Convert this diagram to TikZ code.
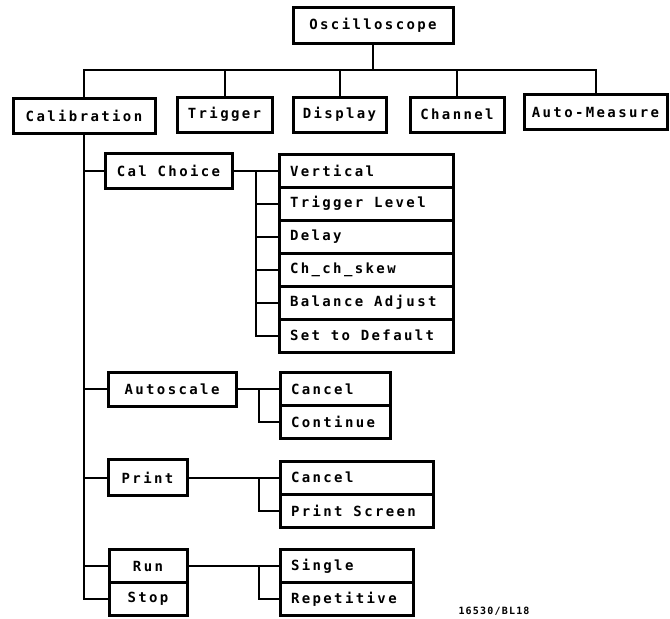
\documentclass[tikz,border=0pt]{standalone}
\usepackage{fontspec}
\newfontfamily\hpfont{DejaVu Sans Mono}[LetterSpace=17]
\newfontfamily\hpsmall{DejaVu Sans Mono}[LetterSpace=12]
\newcommand\hsp{\hspace*{10.8pt}}
\begin{document}
\begin{tikzpicture}[x=1pt,y=-1pt,
  box/.style={draw, line width=3pt, rectangle, inner xsep=0pt, inner ysep=0pt,
    outer sep=0pt, anchor=center, font=\hpfont\bfseries\fontsize{14}{16}\selectfont},
  lbox/.style={box, align=left, inner xsep=11pt},
  conn/.style={line width=2pt}]
\useasboundingbox (0,0) rectangle (670,619);
% top level
\node[box, minimum width=160pt, minimum height=36pt] (osc) at (373,25) {Oscilloscope};
\node[box, minimum width=142pt, minimum height=35pt] (cal) at (84,115.5) {Calibration};
\node[box, minimum width=95pt, minimum height=35pt] (trig) at (224.5,114.5) {Trigger};
\node[box, minimum width=93pt, minimum height=35pt] (disp) at (339.5,114.5) {Display};
\node[box, minimum width=94pt, minimum height=35pt] (chan) at (457,114.5) {Channel};
\node[box, minimum width=143pt, minimum height=35pt] (autom) at (595.5,112) {Auto-Measure};
\path (osc.south) ++(0,27) coordinate (busmid);
\draw[conn] (osc.south) -- (busmid);
\draw[conn] (cal.north) |- (busmid -| autom.north) -- (autom.north);
\foreach \n in {trig,disp,chan}{\draw[conn] (\n.north) -- (\n.north |- busmid);}
% Cal Choice group
\node[box, minimum width=127pt, minimum height=35pt] (cc) at (168.5,170.5) {Cal\hsp Choice};
\node[lbox, text width=152pt, minimum height=33pt] (v1) at (366,170.5) {Vertical};
\node[lbox, text width=152pt, minimum height=33pt] (v2) at (366,203.5) {Trigger\hsp Level};
\node[lbox, text width=152pt, minimum height=33pt] (v3) at (366,236.5) {Delay};
\node[lbox, text width=152pt, minimum height=33pt] (v4) at (366,269.5) {Ch\_ch\_skew};
\node[lbox, text width=152pt, minimum height=33pt] (v5) at (366,302.5) {Balance\hsp Adjust};
\node[lbox, text width=152pt, minimum height=33pt] (v6) at (366,335.5) {Set\hsp to\hsp Default};
\path (cc.east) ++(24,0) coordinate (ccj);
\draw[conn] (cc.east) -- (ccj) |- (v6.west);
\foreach \n in {v1,v2,v3,v4,v5}{\draw[conn] (\n.west) -- (\n.west -| ccj);}
% Autoscale group
\node[box, minimum width=128pt, minimum height=34pt] (asc) at (172,389) {Autoscale};
\node[lbox, text width=88pt, minimum height=33pt] (acan) at (335,389) {Cancel};
\node[lbox, text width=88pt, minimum height=33pt] (acon) at (335,422) {Continue};
\path (asc.east) ++(23,0) coordinate (ascj);
\draw[conn] (asc.east) -- (ascj) |- (acon.west);
\draw[conn] (acan.west) -- (acan.west -| ascj);
% Print group
\node[box, minimum width=79pt, minimum height=36pt] (prn) at (147.5,477.5) {Print};
\node[lbox, text width=131pt, minimum height=33pt] (pcan) at (356.5,477.5) {Cancel};
\node[lbox, text width=131pt, minimum height=33pt] (pscr) at (356.5,510.5) {Print\hsp Screen};
\coordinate (prnj) at (259,477.5);
\draw[conn] (prn.east) -- (prnj) |- (pscr.west);
\draw[conn] (pcan.west) -- (pcan.west -| prnj);
% Run / Stop group
\node[box, minimum width=78pt, minimum height=33pt] (run) at (148,566) {Run};
\node[box, minimum width=78pt, minimum height=33pt] (stop) at (148,599) {Stop};
\node[lbox, text width=111pt, minimum height=33pt] (sgl) at (346.5,566) {Single};
\node[lbox, text width=111pt, minimum height=33pt] (rep) at (346.5,599) {Repetitive};
\coordinate (runj) at (259,566);
\draw[conn] (run.east) -- (runj) |- (rep.west);
\draw[conn] (sgl.west) -- (sgl.west -| runj);
% main trunk
\draw[conn] (cal.south) |- (stop.west);
\foreach \n in {cc,asc,prn,run}{\draw[conn] (\n.west) -- (\n.west -| cal.south);}
% figure number
\node[font=\hpsmall\bfseries\fontsize{10}{12}\selectfont] (fig) at (494,611) {16530/BL18};
\end{tikzpicture}
\end{document}
